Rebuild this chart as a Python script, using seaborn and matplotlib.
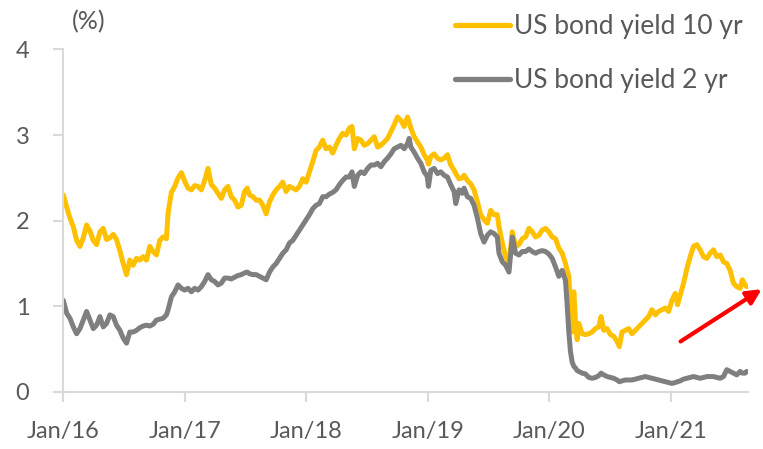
import matplotlib
matplotlib.use("Agg")
import matplotlib.pyplot as plt
import matplotlib.dates as mdates
from matplotlib.lines import Line2D
import seaborn as sns
import pandas as pd

dates = [
    # 2016
    "2016-01-01", "2016-01-11", "2016-01-21", "2016-01-31", "2016-02-10", "2016-02-20",
    "2016-03-01", "2016-03-11", "2016-03-21", "2016-03-31", "2016-04-10", "2016-04-20",
    "2016-04-30", "2016-05-10", "2016-05-20", "2016-05-30", "2016-06-09", "2016-06-19",
    "2016-06-29", "2016-07-09", "2016-07-19", "2016-07-29", "2016-08-08", "2016-08-18",
    "2016-08-28", "2016-09-07", "2016-09-17", "2016-09-27", "2016-10-07", "2016-10-17",
    "2016-10-27", "2016-11-06", "2016-11-11", "2016-11-21", "2016-12-01", "2016-12-11",
    "2016-12-21", "2016-12-31",
    # 2017
    "2017-01-10", "2017-01-20", "2017-01-30", "2017-02-09", "2017-02-19", "2017-03-01",
    "2017-03-11", "2017-03-21", "2017-03-31", "2017-04-10", "2017-04-20", "2017-04-30",
    "2017-05-10", "2017-05-20", "2017-05-30", "2017-06-09", "2017-06-19", "2017-06-29",
    "2017-07-07", "2017-07-14", "2017-07-24", "2017-08-03", "2017-08-13", "2017-08-23",
    "2017-09-02", "2017-09-12", "2017-09-22", "2017-10-02", "2017-10-12", "2017-10-22",
    "2017-11-01", "2017-11-11", "2017-11-21", "2017-12-01", "2017-12-11", "2017-12-21",
    "2017-12-31",
    # 2018
    "2018-01-10", "2018-01-20", "2018-01-30", "2018-02-09", "2018-02-19", "2018-03-01",
    "2018-03-11", "2018-03-21", "2018-03-31", "2018-04-10", "2018-04-20", "2018-04-30",
    "2018-05-10", "2018-05-18", "2018-05-25", "2018-06-04", "2018-06-14", "2018-06-24",
    "2018-07-04", "2018-07-14", "2018-07-24", "2018-08-03", "2018-08-13", "2018-08-23",
    "2018-09-02", "2018-09-12", "2018-09-22", "2018-10-02", "2018-10-12", "2018-10-22",
    "2018-11-01", "2018-11-06", "2018-11-11", "2018-11-21", "2018-12-01", "2018-12-11",
    "2018-12-21", "2018-12-30",
    # 2019
    "2019-01-03", "2019-01-10", "2019-01-20", "2019-01-30", "2019-02-09", "2019-02-19",
    "2019-03-01", "2019-03-11", "2019-03-21", "2019-03-26", "2019-04-05", "2019-04-15",
    "2019-04-20", "2019-04-30", "2019-05-10", "2019-05-20", "2019-05-30", "2019-06-09",
    "2019-06-19", "2019-06-29", "2019-07-09", "2019-07-19", "2019-07-29", "2019-08-03",
    "2019-08-13", "2019-08-23", "2019-09-02", "2019-09-12", "2019-09-22", "2019-10-02",
    "2019-10-12", "2019-10-22", "2019-11-01", "2019-11-11", "2019-11-21", "2019-12-01",
    "2019-12-11", "2019-12-21", "2019-12-31",
    # 2020
    "2020-01-10", "2020-01-20", "2020-01-30", "2020-02-09", "2020-02-19", "2020-02-24",
    "2020-02-29", "2020-03-05", "2020-03-10", "2020-03-15", "2020-03-20", "2020-03-25",
    "2020-03-30", "2020-04-09", "2020-04-19", "2020-04-29", "2020-05-09", "2020-05-19",
    "2020-05-29", "2020-06-05", "2020-06-13", "2020-06-23", "2020-07-03", "2020-07-13",
    "2020-07-23", "2020-07-30", "2020-08-07", "2020-08-17", "2020-08-27", "2020-09-06",
    "2020-09-16", "2020-09-26", "2020-10-06", "2020-10-16", "2020-10-26", "2020-11-05",
    "2020-11-15", "2020-11-25", "2020-12-05", "2020-12-15", "2020-12-25",
    # 2021
    "2021-01-04", "2021-01-14", "2021-01-21", "2021-01-29", "2021-02-08", "2021-02-18",
    "2021-02-28", "2021-03-10", "2021-03-20", "2021-03-30", "2021-04-09", "2021-04-19",
    "2021-04-29", "2021-05-09", "2021-05-19", "2021-05-29", "2021-06-08", "2021-06-18",
    "2021-06-28", "2021-07-08", "2021-07-18", "2021-07-28", "2021-08-04", "2021-08-12",
    "2021-08-17",
]

yield_10y = [
    # 2016
    2.30, 2.16, 2.03, 1.93, 1.77, 1.70, 1.80, 1.95, 1.88, 1.77, 1.72, 1.87,
    1.91, 1.78, 1.80, 1.84, 1.78, 1.65, 1.50, 1.37, 1.54, 1.48, 1.56, 1.54,
    1.58, 1.54, 1.70, 1.64, 1.60, 1.77, 1.81, 1.79, 2.09, 2.33, 2.40, 2.50,
    2.56, 2.46,
    # 2017
    2.38, 2.36, 2.41, 2.40, 2.36, 2.47, 2.61, 2.42, 2.38, 2.32, 2.26, 2.36,
    2.40, 2.28, 2.24, 2.16, 2.18, 2.34, 2.38, 2.30, 2.28, 2.24, 2.24, 2.18,
    2.08, 2.22, 2.30, 2.36, 2.40, 2.45, 2.34, 2.40, 2.38, 2.36, 2.40, 2.49,
    2.45,
    # 2018
    2.57, 2.69, 2.82, 2.86, 2.94, 2.84, 2.86, 2.79, 2.88, 2.96, 3.02, 3.00,
    3.08, 3.10, 2.84, 2.96, 2.94, 2.88, 2.90, 2.94, 2.98, 2.86, 2.88, 2.92,
    2.96, 3.04, 3.12, 3.21, 3.17, 3.10, 3.21, 3.15, 3.08, 2.98, 2.92, 2.86,
    2.77, 2.71,
    # 2019
    2.66, 2.75, 2.78, 2.73, 2.71, 2.73, 2.77, 2.65, 2.59, 2.55, 2.49, 2.50,
    2.53, 2.47, 2.43, 2.36, 2.22, 2.07, 2.01, 1.97, 2.12, 2.07, 2.07, 1.93,
    1.74, 1.58, 1.50, 1.87, 1.70, 1.72, 1.79, 1.81, 1.91, 1.87, 1.81, 1.83,
    1.89, 1.91, 1.87,
    # 2020
    1.81, 1.79, 1.68, 1.62, 1.50, 1.42, 1.35, 0.98, 0.70, 1.17, 0.82, 0.61,
    0.80, 0.68, 0.67, 0.68, 0.70, 0.74, 0.76, 0.88, 0.72, 0.74, 0.67, 0.65,
    0.59, 0.53, 0.70, 0.72, 0.74, 0.68, 0.72, 0.76, 0.80, 0.84, 0.88, 0.96,
    0.90, 0.94, 0.96, 0.98, 0.94,
    # 2021
    1.07, 1.15, 1.02, 1.13, 1.27, 1.44, 1.58, 1.70, 1.72, 1.66, 1.58, 1.56,
    1.62, 1.66, 1.58, 1.60, 1.52, 1.50, 1.42, 1.27, 1.23, 1.21, 1.31, 1.25,
    1.23,
]

yield_2y = [
    # 2016
    1.07, 0.92, 0.86, 0.76, 0.68, 0.74, 0.84, 0.94, 0.84, 0.74, 0.78, 0.88,
    0.76, 0.80, 0.90, 0.88, 0.78, 0.72, 0.63, 0.57, 0.70, 0.70, 0.72, 0.75,
    0.77, 0.78, 0.77, 0.79, 0.84, 0.85, 0.86, 0.90, 0.96, 1.11, 1.17, 1.25,
    1.21, 1.19,
    # 2017
    1.21, 1.17, 1.21, 1.19, 1.23, 1.29, 1.37, 1.31, 1.29, 1.25, 1.27, 1.33,
    1.33, 1.32, 1.34, 1.36, 1.37, 1.39, 1.40, 1.38, 1.37, 1.37, 1.35, 1.33,
    1.31, 1.40, 1.46, 1.50, 1.56, 1.62, 1.66, 1.74, 1.77, 1.83, 1.89, 1.95,
    2.01,
    # 2018
    2.07, 2.14, 2.18, 2.20, 2.28, 2.28, 2.31, 2.33, 2.36, 2.42, 2.47, 2.51,
    2.51, 2.57, 2.40, 2.53, 2.57, 2.55, 2.61, 2.65, 2.65, 2.67, 2.63, 2.69,
    2.73, 2.78, 2.84, 2.86, 2.88, 2.84, 2.90, 2.96, 2.86, 2.80, 2.73, 2.67,
    2.57, 2.52,
    # 2019
    2.40, 2.59, 2.61, 2.55, 2.57, 2.53, 2.51, 2.42, 2.34, 2.20, 2.36, 2.32,
    2.38, 2.28, 2.26, 2.18, 2.03, 1.85, 1.75, 1.83, 1.87, 1.85, 1.81, 1.62,
    1.52, 1.48, 1.40, 1.81, 1.62, 1.60, 1.64, 1.64, 1.67, 1.64, 1.62, 1.64,
    1.65, 1.64, 1.61,
    # 2020
    1.56, 1.46, 1.35, 1.42, 1.30, 1.02, 0.70, 0.47, 0.35, 0.30, 0.28, 0.25,
    0.24, 0.22, 0.21, 0.17, 0.16, 0.17, 0.19, 0.22, 0.20, 0.18, 0.17, 0.16,
    0.14, 0.12, 0.13, 0.14, 0.14, 0.14, 0.15, 0.16, 0.17, 0.18, 0.17, 0.16,
    0.15, 0.14, 0.13, 0.12, 0.11,
    # 2021
    0.10, 0.11, 0.12, 0.13, 0.15, 0.16, 0.17, 0.18, 0.17, 0.16, 0.17, 0.18,
    0.18, 0.18, 0.17, 0.16, 0.18, 0.26, 0.24, 0.22, 0.20, 0.24, 0.22, 0.22,
    0.24,
]

series_names = ["US bond yield 10 yr", "US bond yield 2 yr"]
series_colors = ["#FFC000", "#7F7F7F"]
year_ticks = ["2016-01-01", "2017-01-01", "2018-01-01", "2019-01-01", "2020-01-01", "2021-01-01"]
y_ticks = [0, 1, 2, 3, 4]
arrow_start = ("2021-01-30", 0.59)
arrow_end = ("2021-10-01", 1.20)

df = pd.DataFrame({
    "date": pd.to_datetime(dates * 2),
    "value": yield_10y + yield_2y,
    "series": [series_names[0]] * len(dates) + [series_names[1]] * len(dates),
})

sns.set_theme(style="white")
plt.rcParams["font.family"] = ["Lato", "DejaVu Sans"]
text_color = "#595959"
axis_color = "#D9D9D9"

fig = plt.figure(figsize=(7.63, 4.49), dpi=100)
ax = fig.add_axes([0.083, 0.127, 0.897, 0.763])

sns.lineplot(data=df, x="date", y="value", hue="series", hue_order=series_names,
             palette=series_colors, linewidth=3.6, ax=ax, legend=False,
             solid_capstyle="round", solid_joinstyle="round")

ax.set_xlim(pd.Timestamp("2016-01-01"), pd.Timestamp("2021-08-20"))
ax.set_ylim(0, 4)
ax.set_xticks(pd.to_datetime(year_ticks))
ax.xaxis.set_major_formatter(mdates.DateFormatter("%b/%y"))
ax.set_yticks(y_ticks)
ax.set_xlabel("")
ax.set_ylabel("")

for side in ["top", "right"]:
    ax.spines[side].set_visible(False)
for side in ["left", "bottom"]:
    ax.spines[side].set_color(axis_color)
    ax.spines[side].set_linewidth(1.5)

ax.tick_params(axis="both", colors=axis_color, labelcolor=text_color,
               labelsize=17, width=1.5)
ax.tick_params(axis="x", length=7, pad=14, direction="out", bottom=True)
ax.tick_params(axis="y", length=7.5, pad=17, direction="out", left=True)

ax.text(0.013, 1.08, "(%)", transform=ax.transAxes, fontsize=18, color=text_color,
        ha="left", va="center")

handles = [Line2D([0], [0], color=c, lw=3.8, solid_capstyle="round") for c in series_colors]
leg = ax.legend(handles, series_names, loc="upper left", bbox_to_anchor=(0.573, 1.103),
                frameon=False, fontsize=19, handlelength=2.08, handletextpad=0.12,
                labelspacing=1.1, borderaxespad=0.0, borderpad=0.0)
for t in leg.get_texts():
    t.set_color(text_color)

ax.annotate("", xy=(pd.Timestamp(arrow_end[0]), arrow_end[1]),
            xytext=(pd.Timestamp(arrow_start[0]), arrow_start[1]),
            arrowprops=dict(arrowstyle="-|>", color="#FF0000", lw=3.0,
                            mutation_scale=22, shrinkA=0, shrinkB=0),
            annotation_clip=False)

fig.savefig("out.png", dpi=100)
